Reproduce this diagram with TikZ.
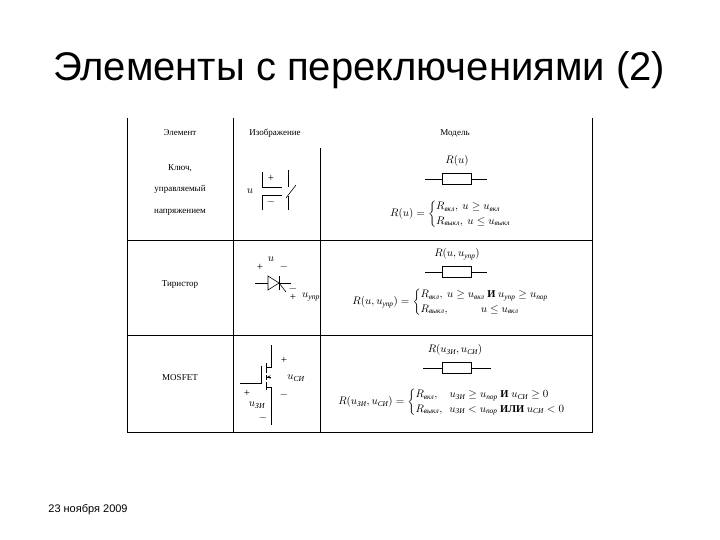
\documentclass[tikz,border=0pt]{standalone}
\usepackage{amsmath}
\usepackage{fontspec}
\setmainfont{Liberation Serif}
\newfontfamily\titlefont{Liberation Sans}
\newcommand{\tx}[1]{\text{\itshape #1}}
\begin{document}
\begin{tikzpicture}[x=1pt,y=-1pt,
  tab/.style={line width=0.7pt},
  cell/.style={font=\fontsize{9}{11}\selectfont, align=center},
  sym/.style={line width=0.6pt},
  lab/.style={font=\fontsize{11}{12}\selectfont, inner sep=0pt},
  res/.style={draw, line width=0.6pt, minimum width=29pt, minimum height=11pt, inner sep=0pt},
  eq/.style={font=\fontsize{10.5}{12}\selectfont, inner sep=0pt}]
\fill[white] (0,0) rectangle (720,540);
\useasboundingbox (0,0) rectangle (720,540);
\node[font=\titlefont\fontsize{40}{44}\selectfont] (title) at (359,70) {Элементы с переключениями (2)};
\node[font=\titlefont\fontsize{11}{13}\selectfont] (date) at (88,510) {23 ноября 2009};
% table
\draw[tab] (127,118) -- (127,432) -- (592,432) -- (592,118);
\draw[tab] (233,118) -- (233,432);
\draw[tab] (320,148) -- (320,432);
\draw[tab] (127,240) -- (592,240);
\draw[tab] (127,335) -- (592,335);
\node[cell] (h1) at (180,133) {Элемент};
\node[cell] (h2) at (275,133) {Изображение};
\node[cell] (h3) at (455,133) {Модель};
\node[cell, align=center, font=\fontsize{9}{21.5}\selectfont] (c1) at (180,190) {Ключ,\\управляемый\\напряжением};
\node[cell] (c2) at (180,285) {Тиристор};
\node[cell] (c3) at (180,378) {MOSFET};
% switch
\node[lab] (su) at (250,191) {$u$};
\draw[sym] (262,172) -- (262,187) -- (282,187);
\draw[sym] (262,210) -- (262,195) -- (282,195);
\node[lab] (sp) at (271,178) {+};
\node[lab] (sm) at (271,202) {$-$};
\draw[sym] (288,170) -- (288,187);
\draw[sym] (288,196) -- (288,210);
\draw[sym] (286,198) -- (296,185);
% thyristor
\node[lab] (tp) at (260,267) {+};
\node[lab] (tu) at (271,259) {$u$};
\node[lab] (tm) at (284,267) {$-$};
\draw[sym] (255,283) -- (268,283);
\draw[sym] (268,276) -- (268,290) -- (279,283) -- cycle;
\draw[sym] (279,276) -- (279,290);
\draw[sym] (279,283) -- (291,283);
\draw[sym] (279,283) -- (286,292);
\node[lab] (tm2) at (293,289) {$-$};
\node[lab] (tp2) at (293,297) {+};
\node[lab, anchor=west] (tg) at (302,297) {$u_{\tx{упр}}$};
% mosfet
\draw[sym] (271,345) -- (271,367) -- (266,367);
\draw[sym] (266,363) -- (266,373);
\draw[sym] (266,375) -- (266,380);
\draw[sym] (266,382) -- (266,390);
\draw[sym] (266,387) -- (271,387) -- (271,425);
\draw[sym] (271,377) -- (266,377);
\draw[sym,-stealth] (271,377) -- (267,377);
\draw[sym] (240,383) -- (261,383) -- (261,366);
\node[lab] (mp) at (284,360) {+};
\node[lab] (mu) at (296,378) {$u_{\tx{СИ}}$};
\node[lab] (mm) at (284,395) {$-$};
\node[lab] (gp) at (247,393) {+};
\node[lab] (gu) at (257,405) {$u_{\tx{ЗИ}}$};
\node[lab] (gm) at (263,418) {$-$};
% models
\node[res] (r1) at (457,179) {};
\draw[sym] (r1.west) -- ++(-17,0); \draw[sym] (r1.east) -- ++(15,0);
\node[eq] (l1) at (457,161) {$R(u)$};
\node[eq] (e1) at (456,214) {$R(u)=\begin{cases}R_{\tx{вкл}},\ u\ge u_{\tx{вкл}}\\ R_{\tx{выкл}},\ u\le u_{\tx{выкл}}\end{cases}$};
\node[res] (r2) at (457,272) {};
\draw[sym] (r2.west) -- ++(-17,0); \draw[sym] (r2.east) -- ++(15,0);
\node[eq] (l2) at (457,254) {$R(u,u_{\tx{упр}})$};
\node[eq] (e2) at (456,302) {$R(u,u_{\tx{упр}})=\begin{cases}R_{\tx{вкл}},\ u\ge u_{\tx{вкл}}\ \text{\bfseries И}\ u_{\tx{упр}}\ge u_{\tx{пор}}\\ R_{\tx{выкл}},\qquad\quad u\le u_{\tx{вкл}}\end{cases}$};
\node[res] (r3) at (457,368) {};
\draw[sym] (r3.west) -- ++(-19,0); \draw[sym] (r3.east) -- ++(19,0);
\node[eq] (l3) at (455,350) {$R(u_{\tx{ЗИ}},u_{\tx{СИ}})$};
\node[eq] (e3) at (457,402) {$R(u_{\tx{ЗИ}},u_{\tx{СИ}})=\begin{cases}R_{\tx{вкл}},\quad u_{\tx{ЗИ}}\ge u_{\tx{пор}}\ \text{\bfseries И}\ u_{\tx{СИ}}\ge 0\\ R_{\tx{выкл}},\ \ u_{\tx{ЗИ}}<u_{\tx{пор}}\ \text{\bfseries ИЛИ}\ u_{\tx{СИ}}<0\end{cases}$};
\end{tikzpicture}
\end{document}
